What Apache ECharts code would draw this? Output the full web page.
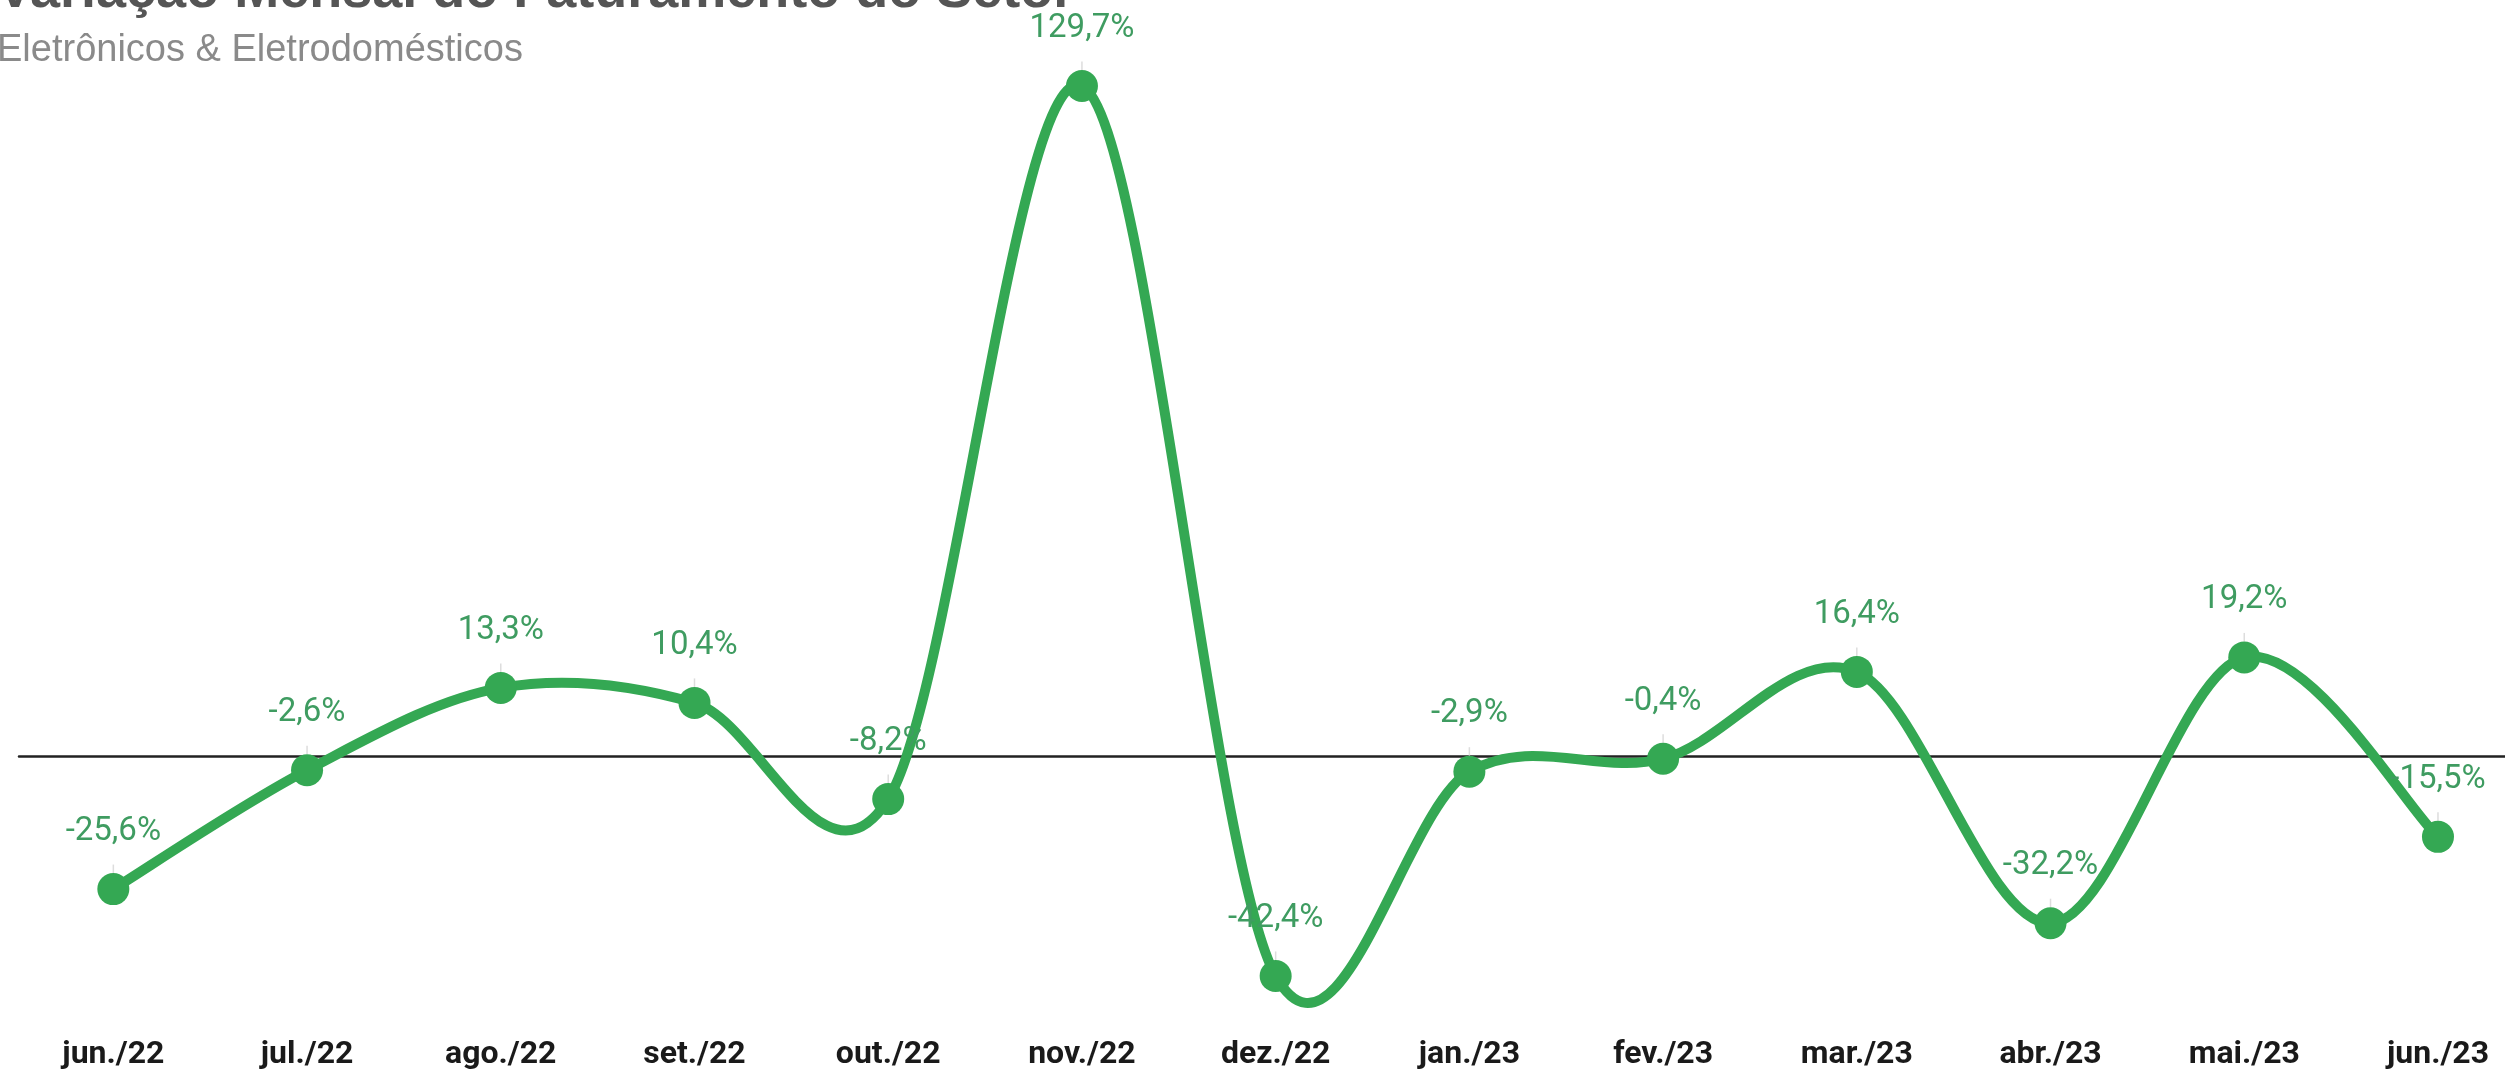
<!DOCTYPE html>
<html>
<head>
<meta charset="utf-8">
<script src="https://cdn.jsdelivr.net/npm/echarts@6/dist/echarts.min.js"></script>
<style>
html,body{margin:0;padding:0;background:#fff;}
#chart{width:2505px;height:1074px;}
</style>
</head>
<body>
<div id="chart"></div>
<script>
const months = ['jun./22','jul./22','ago./22','set./22','out./22','nov./22','dez./22','jan./23','fev./23','mar./23','abr./23','mai./23','jun./23'];
const values = [-25.6, -2.6, 13.3, 10.4, -8.2, 129.7, -42.4, -2.9, -0.4, 16.4, -32.2, 19.2, -15.5];
const titleText = 'Variação Mensal do Faturamento do Setor';
const subtitleText = 'Eletrônicos & Eletrodomésticos';

const GREEN = '#34a853';
const xIdx = months.map((m, i) => i);
const seriesData = values.map((v, i) => [i, v]);
const segmentData = seriesData.slice(0, -1);
const fmt = v => v.toFixed(1).replace('.', ',') + '%';

// Catmull-Rom (cardinal, tension 0) segment between point i and i+1, in pixel space via api.coord
function renderSegment(params, api) {
  const i = params.dataIndex;
  const n = seriesData.length;
  const P = k => api.coord(seriesData[Math.max(0, Math.min(n - 1, k))]);
  const p0 = P(i - 1), p1 = P(i), p2 = P(i + 1), p3 = P(i + 2);
  const cp1 = [p1[0] + (p2[0] - p0[0]) / 6, p1[1] + (p2[1] - p0[1]) / 6];
  const cp2 = [p2[0] - (p3[0] - p1[0]) / 6, p2[1] - (p3[1] - p1[1]) / 6];
  return {
    type: 'bezierCurve',
    shape: { x1: p1[0], y1: p1[1], x2: p2[0], y2: p2[1], cpx1: cp1[0], cpy1: cp1[1], cpx2: cp2[0], cpy2: cp2[1] },
    style: { stroke: GREEN, lineWidth: 10, lineCap: 'round', fill: null }
  };
}

const chart = echarts.init(document.getElementById('chart'));
chart.setOption({
  backgroundColor: '#ffffff',
  animation: false,
  title: [
    {
      text: titleText, left: -3, top: -35, padding: 0,
      textStyle: { fontFamily: 'Liberation Sans', fontWeight: 'bold', fontSize: 54, color: '#555555' }
    },
    {
      text: subtitleText, left: -3, top: 32, padding: 0,
      textStyle: { fontFamily: 'Liberation Sans', fontWeight: 'normal', fontSize: 38, color: '#8a8a8a' }
    }
  ],
  grid: { left: 19, right: 0, top: 0, bottom: 54, containLabel: false },
  xAxis: [
    {
      type: 'value', min: -0.487, max: 12.346,
      axisLine: { show: true, onZero: true, lineStyle: { color: '#222222', width: 2.5 } },
      axisTick: { show: false }, axisLabel: { show: false }, splitLine: { show: false }
    },
    {
      type: 'value', min: -0.487, max: 12.346, position: 'bottom',
      axisLine: { show: false, onZero: false }, axisTick: { show: false }, splitLine: { show: false },
      axisLabel: {
        show: true, customValues: xIdx, margin: 19,
        formatter: v => months[Math.round(v)] || '',
        fontFamily: 'Roboto', fontWeight: 'bold', fontSize: 32, color: '#1a1a1a'
      }
    }
  ],
  yAxis: {
    type: 'value', min: -50.92, max: 146.33,
    show: false, splitLine: { show: false }
  },
  series: [
    {
      type: 'custom',
      xAxisIndex: 0,
      data: segmentData,
      encode: { x: 0, y: 1 },
      renderItem: renderSegment,
      clip: false,
      silent: true,
      z: 2
    },
    {
      type: 'line',
      xAxisIndex: 0,
      data: seriesData,
      symbol: 'circle',
      symbolSize: 32,
      lineStyle: { opacity: 0, width: 0 },
      itemStyle: { color: GREEN },
      label: {
        show: true, position: 'top', distance: 25,
        formatter: p => fmt(p.value[1]),
        fontFamily: 'Roboto', fontSize: 33, color: '#3f9c61'
      },
      labelLine: { show: true, lineStyle: { color: '#dddddd', width: 1.5 } },
      z: 3
    }
  ]
});
</script>
</body>
</html>
